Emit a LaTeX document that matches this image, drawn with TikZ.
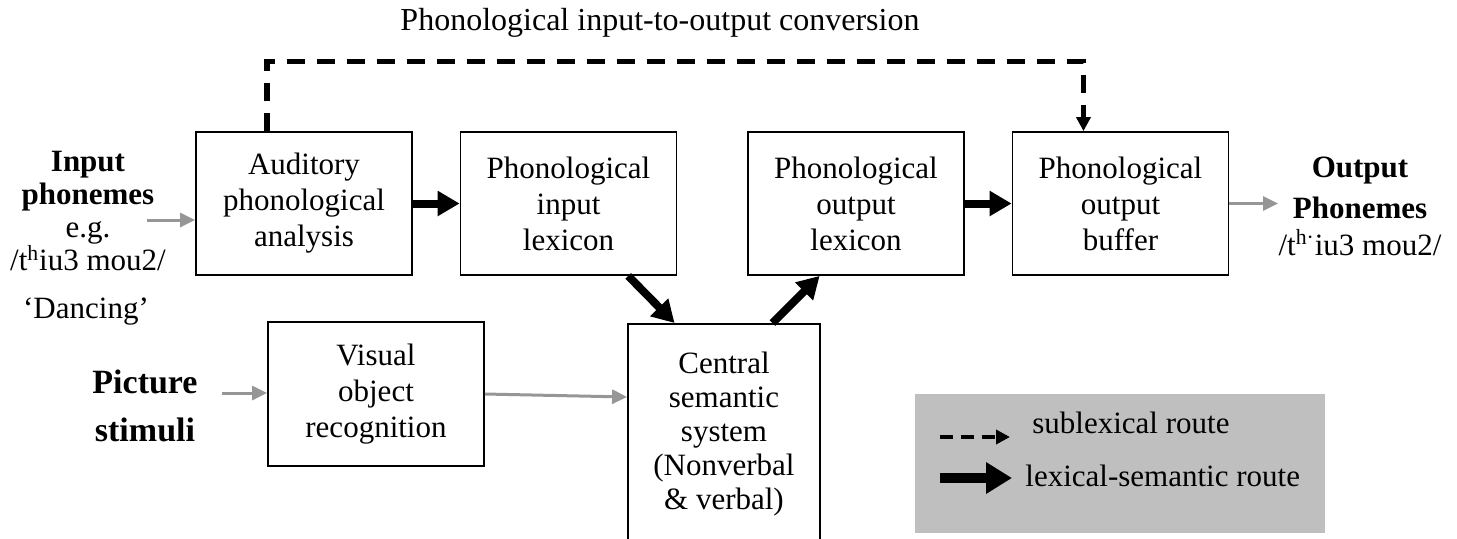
\documentclass[tikz,border=0pt]{standalone}
\usepackage{fontspec}
\setmainfont{Liberation Serif}
\usetikzlibrary{arrows.meta,calc}
\definecolor{legendgray}{RGB}{191,191,191}
\definecolor{arrowgray}{RGB}{150,150,150}
\begin{document}
\begin{tikzpicture}[x=0.5pt,y=-0.5pt,
  font=\fontsize{15.5}{18}\selectfont,
  box/.style={draw, line width=0.9pt, minimum width=108pt, minimum height=71.5pt, align=center, inner sep=0pt},
  lexarrow/.style={line width=4pt, -{Triangle[length=11pt,width=12pt]}},
  subarrow/.style={line width=2.6pt, dash pattern=on 9pt off 6pt, -{Triangle[length=7pt,width=7pt]}},
  grayarrow/.style={draw=arrowgray, line width=1.5pt, -{Triangle[length=7.5pt,width=7pt]}, color=arrowgray},
  lbl/.style={align=center, inner sep=0pt}]
\useasboundingbox (0,0) rectangle (1457,538);

% title
\node (title) [lbl, font=\fontsize{16}{19}\selectfont] at (660,23) {Phonological input-to-output conversion};

% top row boxes
\node (aud) [box] at (304,203.5) {Auditory\\phonological\\analysis};
\node (pil) [box] at (568.5,203.5) {Phonological\\input\\lexicon};
\node (pol) [box] at (856,203.5) {Phonological\\output\\lexicon};
\node (buf) [box] at (1120.5,203.5) {Phonological\\output\\buffer};

% bottom boxes
\node (vis) [box, minimum height=72pt] at (376,394) {Visual\\object\\recognition};
\node (cen) [draw, line width=0.9pt, minimum width=96pt, minimum height=130pt, anchor=north, inner sep=0pt,
  label={[anchor=north, align=center, inner sep=0pt, yshift=-14.5pt, font=\fontsize{15.5}{17}\selectfont]north:{Central\\semantic\\system\\(Nonverbal\\\& verbal)}}]
  at (724,323) {};

% side labels
\node (inp) [lbl, font=\fontsize{15.5}{16.5}\selectfont] at (88,211) {\textbf{Input}\\\textbf{phonemes}\\e.g.\\/t\textsuperscript{h}iu3 mou2/};
\node (dance) [lbl] at (86,312) {‘Dancing’};
\node (outp) [lbl, font=\fontsize{15.5}{18.5}\selectfont] at (1360,206) {\textbf{Output}\\[2pt]\textbf{Phonemes}\\/t\textsuperscript{h·}iu3 mou2/};
\node (pic) [lbl, font=\bfseries\fontsize{17}{24}\selectfont] at (145,406) {Picture\\stimuli};

% sublexical route
\draw[subarrow] ($(aud.north west)!0.33!(aud.north east)$) -- ++(0,-70) -| ($(buf.north west)!0.33!(buf.north east)$);

% lexical-semantic route
\draw[lexarrow] (aud.east) -- (pil.west);
\draw[lexarrow] (pol.east) -- (buf.west);
\draw[lexarrow] ($(pil.south west)!0.774!(pil.south east)$) -- ($(cen.north west)!0.245!(cen.north east)$);
\draw[lexarrow] ($(cen.north west)!0.75!(cen.north east)$) -- ($(pol.south west)!0.333!(pol.south east)$);

% gray input/output arrows
\coordinate (inS) at (147,220);
\draw[grayarrow] (inS) -- (inS -| aud.west);
\coordinate (outE) at (1278,203.5);
\draw[grayarrow] (buf.east) -- (outE);
\coordinate (picS) at (222,393);
\draw[grayarrow] (picS) -- (picS -| vis.west);
\draw[grayarrow] (vis.east) -- ($(vis.east -| cen.west)+(0,3)$);

% legend
\node (leg) [fill=legendgray, minimum width=205pt, minimum height=69.5pt, anchor=north west, inner sep=0pt] at (915,394) {};
\coordinate (l1s) at (940,437);
\coordinate (l1e) at (1010,437);
\draw[line width=2pt, dash pattern=on 6.5pt off 4pt, -{Triangle[length=7pt,width=7pt]}] (l1s) -- (l1e);
\node (sub) [lbl, anchor=west] at (1032,423) {sublexical route};
\coordinate (l2s) at (940,478);
\coordinate (l2e) at (1012,478);
\draw[line width=5pt, -{Triangle[length=13pt,width=15pt]}] (l2s) -- (l2e);
\node (lex) [lbl, anchor=west] at (1025,476) {lexical-semantic route};
\end{tikzpicture}
\end{document}
